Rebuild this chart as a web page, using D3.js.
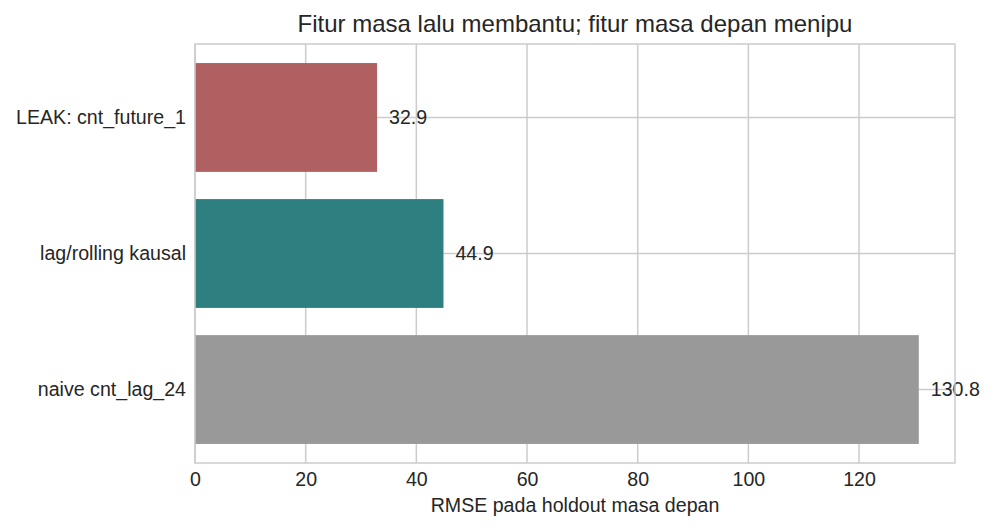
<!DOCTYPE html>
<html>
<head>
<meta charset="utf-8">
<script src="https://cdn.jsdelivr.net/npm/d3@7"></script>
<style>
  body { margin: 0; background: #fff; }
  svg text { font-family: "Liberation Sans", Arial, sans-serif; fill: #262626; }
</style>
</head>
<body>
<svg id="chart" width="994" height="531"></svg>
<script>
// data, top to bottom as drawn
const categories = ["LEAK: cnt_future_1", "lag/rolling kausal", "naive cnt_lag_24"];
const rmse = [32.9, 44.9, 130.8];
const barColors = ["#b06060", "#2e7f7f", "#999999"];
const xTicks = [0, 20, 40, 60, 80, 100, 120];

const margin = { top: 44, right: 39, bottom: 68, left: 195 };
const width = 994, height = 531;
const innerW = width - margin.left - margin.right;
const innerH = height - margin.top - margin.bottom;
const labelSize = "19.6px";

const svg = d3.select("#chart");
const g = svg.append("g").attr("transform", `translate(${margin.left},${margin.top})`);

const x = d3.scaleLinear()
    .domain([0, d3.max(rmse) * 1.05])
    .range([0, innerW]);

const y = d3.scaleBand()
    .domain(categories)
    .range([0, innerH])
    .paddingInner(0.2)
    .paddingOuter(0.14);

// grid
g.selectAll(".vgrid").data(xTicks).join("line")
    .attr("x1", d => x(d)).attr("x2", d => x(d))
    .attr("y1", 0).attr("y2", innerH)
    .attr("stroke", "#cccccc").attr("stroke-width", 1.5);

g.selectAll(".hgrid").data(categories).join("line")
    .attr("x1", 0).attr("x2", innerW)
    .attr("y1", d => y(d) + y.bandwidth() / 2)
    .attr("y2", d => y(d) + y.bandwidth() / 2)
    .attr("stroke", "#cccccc").attr("stroke-width", 1.5);

// bars
g.selectAll(".bar").data(categories).join("rect")
    .attr("x", x(0))
    .attr("y", d => y(d))
    .attr("width", (d, i) => x(rmse[i]) - x(0))
    .attr("height", y.bandwidth())
    .attr("fill", (d, i) => barColors[i]);

// value labels
g.selectAll(".val").data(categories).join("text")
    .attr("x", (d, i) => x(rmse[i]) + 12)
    .attr("y", d => y(d) + y.bandwidth() / 2)
    .attr("dy", "0.35em")
    .style("font-size", labelSize)
    .text((d, i) => rmse[i].toFixed(1));

// frame
g.append("rect")
    .attr("width", innerW).attr("height", innerH)
    .attr("fill", "none").attr("stroke", "#cccccc").attr("stroke-width", 1.5);

// axes
const xAxis = g.append("g")
    .attr("transform", `translate(0,${innerH})`)
    .call(d3.axisBottom(x).tickValues(xTicks).tickSize(0).tickPadding(9));
xAxis.select(".domain").remove();
xAxis.selectAll("text").style("font-size", labelSize).attr("fill", "#262626");

const yAxis = g.append("g")
    .call(d3.axisLeft(y).tickSize(0).tickPadding(9));
yAxis.select(".domain").remove();
yAxis.selectAll("text").style("font-size", labelSize).attr("fill", "#262626");

// axis title
svg.append("text")
    .attr("x", margin.left + innerW / 2)
    .attr("y", 512)
    .attr("text-anchor", "middle")
    .style("font-size", labelSize)
    .text("RMSE pada holdout masa depan");

// chart title
svg.append("text")
    .attr("x", margin.left + innerW / 2)
    .attr("y", 32)
    .attr("text-anchor", "middle")
    .style("font-size", "24px")
    .text("Fitur masa lalu membantu; fitur masa depan menipu");
</script>
</body>
</html>
